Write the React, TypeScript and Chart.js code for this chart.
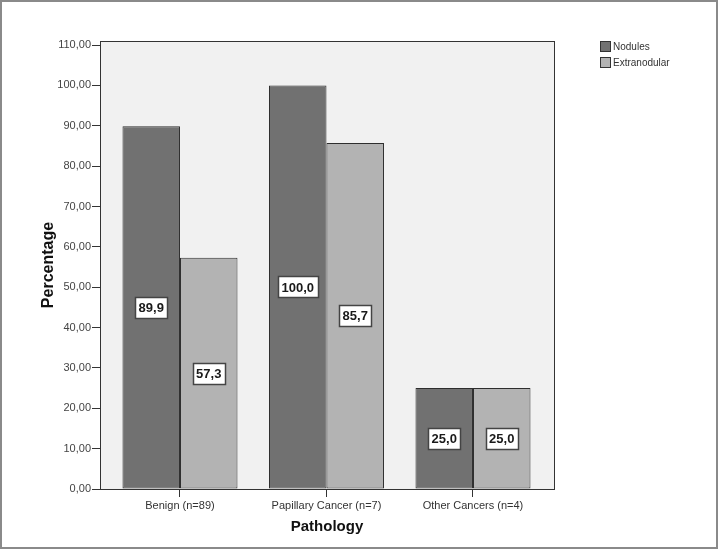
import React, { useEffect, useRef } from "react";
import { Chart, registerables } from "chart.js";

Chart.register(...registerables);

const categories = ["Benign (n=89)", "Papillary Cancer (n=7)", "Other Cancers (n=4)"];
const seriesNames = ["Nodules", "Extranodular"];
const nodules = [89.9, 100.0, 25.0];
const extranodular = [57.3, 85.7, 25.0];
const yTickValues = [0, 10, 20, 30, 40, 50, 60, 70, 80, 90, 100, 110];

const colors = ["#717171", "#b3b3b3"];
const FONT = "'Liberation Sans', Arial, sans-serif";

const fmt2 = (v: number) => v.toFixed(2).replace(".", ",");
const fmt1 = (v: number) => v.toFixed(1).replace(".", ",");

const decorPlugin = {
  id: "decor",
  beforeDraw(chart: any) {
    const { ctx, chartArea: a, width, height } = chart;
    ctx.save();
    ctx.fillStyle = "#ffffff";
    ctx.fillRect(0, 0, width, height);
    ctx.fillStyle = "#f1f1f1";
    ctx.fillRect(a.left, a.top, a.right - a.left, a.bottom - a.top);
    ctx.restore();
  },
  afterDatasetsDraw(chart: any) {
    const { ctx } = chart;
    ctx.save();
    ctx.font = `bold 13px ${FONT}`;
    ctx.textAlign = "center";
    ctx.textBaseline = "middle";
    chart.data.datasets.forEach((ds: any, di: number) => {
      const meta = chart.getDatasetMeta(di);
      meta.data.forEach((el: any, i: number) => {
        const v = ds.data[i].y;
        const txt = fmt1(v);
        const cx = el.x;
        const cy = (el.y + el.base) / 2;
        const w = ctx.measureText(txt).width + 7;
        const h = 21;
        ctx.fillStyle = "#ffffff";
        ctx.fillRect(Math.round(cx - w / 2) + 0.5, Math.round(cy - h / 2) + 0.5, Math.round(w), h);
        ctx.strokeStyle = "#444";
        ctx.lineWidth = 1.5;
        ctx.strokeRect(Math.round(cx - w / 2) + 0.5, Math.round(cy - h / 2) + 0.5, Math.round(w), h);
        ctx.fillStyle = "#1a1a1a";
        ctx.fillText(txt, cx, cy + 1);
      });
    });
    ctx.restore();
  },
  afterDraw(chart: any) {
    const { ctx, chartArea: a, width, height } = chart;
    ctx.save();
    ctx.strokeStyle = "#333";
    ctx.lineWidth = 1;
    ctx.strokeRect(a.left + 0.5, a.top + 0.5, a.right - a.left, a.bottom - a.top);
    // outer frame
    ctx.strokeStyle = "#8a8a8a";
    ctx.lineWidth = 2;
    ctx.strokeRect(1, 1, width - 2, height - 2);
    // legend
    ctx.font = `10px ${FONT}`;
    ctx.textAlign = "left";
    ctx.textBaseline = "middle";
    chart.data.datasets.forEach((ds: any, i: number) => {
      const y = 41 + i * 16;
      ctx.fillStyle = ds.backgroundColor;
      ctx.fillRect(600.5, y + 0.5, 10, 10);
      ctx.strokeStyle = "#333";
      ctx.lineWidth = 1;
      ctx.strokeRect(600.5, y + 0.5, 10, 10);
      ctx.fillStyle = "#333";
      ctx.fillText(ds.label, 613, y + 6);
    });
    ctx.restore();
  },
};

export default function App() {
  const ref = useRef<HTMLCanvasElement>(null);
  useEffect(() => {
    if (!ref.current) return;
    const chart = new Chart(ref.current, {
      type: "bar",
      data: {
        datasets: [
          {
            label: seriesNames[0],
            data: nodules.map((v, i) => ({ x: i, y: v })),
            backgroundColor: colors[0],
            borderColor: "#2e2e2e",
            borderWidth: 1,
            borderSkipped: false,
          },
          {
            label: seriesNames[1],
            data: extranodular.map((v, i) => ({ x: i, y: v })),
            backgroundColor: colors[1],
            borderColor: "#2e2e2e",
            borderWidth: 1,
            borderSkipped: false,
          },
        ],
      },
      plugins: [decorPlugin],
      options: {
        animation: false,
        responsive: false,
        devicePixelRatio: 1,
        categoryPercentage: 0.785,
        barPercentage: 1,
        layout: { padding: { left: 0, right: 164, top: 41, bottom: 0 } },
        plugins: { legend: { display: false }, tooltip: { enabled: false } },
        scales: {
          x: {
            type: "linear",
            min: -0.546,
            max: 2.553,
            offset: false,
            grid: { display: true, drawOnChartArea: false, drawTicks: true, tickLength: 8, color: "#333", offset: false },
            border: { display: true, color: "#333" },
            afterBuildTicks: (scale: any) => {
              scale.ticks = categories.map((_, i) => ({ value: i }));
            },
            afterFit: (scale: any) => {
              scale.height = 60;
            },
            ticks: {
              autoSkip: false,
              maxRotation: 0,
              padding: 2,
              color: "#333",
              font: { family: FONT, size: 11 },
              callback: (v: any) => categories[v] ?? "",
            },
            title: {
              display: true,
              text: "Pathology",
              color: "#111",
              font: { family: FONT, size: 15, weight: "bold" },
              padding: { top: 0, bottom: 13 },
            },
          },
          y: {
            type: "linear",
            min: 0,
            max: 111,
            grid: { display: true, drawOnChartArea: false, drawTicks: true, tickLength: 8, color: "#333" },
            border: { display: true, color: "#333" },
            afterBuildTicks: (scale: any) => {
              scale.ticks = yTickValues.map((v) => ({ value: v }));
            },
            afterFit: (scale: any) => {
              scale.width = 100;
            },
            ticks: {
              padding: 1,
              color: "#444",
              font: { family: FONT, size: 11 },
              callback: (v: any) => fmt2(Number(v)),
            },
            title: {
              display: true,
              text: "Percentage",
              color: "#111",
              font: { family: FONT, size: 16, weight: "bold" },
              padding: { top: 39, bottom: 0 },
            },
          },
        },
      } as any,
    });
    return () => chart.destroy();
  }, []);
  return (
    <div style={{ position: "fixed", left: 0, top: 0, width: 718, height: 549 }}>
      <canvas ref={ref} width={718} height={549} style={{ width: 718, height: 549, display: "block" }} />
    </div>
  );
}
